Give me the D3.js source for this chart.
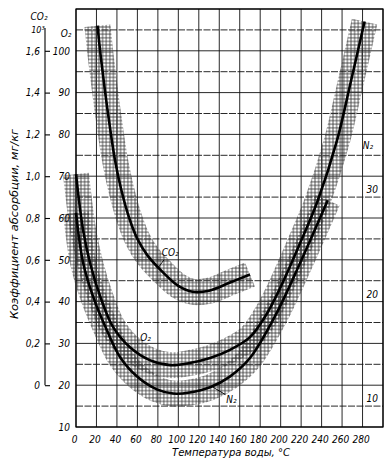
<!DOCTYPE html>
<html lang="ru">
	<head>
		<meta charset="UTF-8" />
		<title>Коэффициент абсорбции</title>
		<script src="https://d3js.org/d3.v7.min.js"></script>
		<style>
			body { margin: 0; background: #fff; }
			text { font-family: 'DejaVu Sans Condensed', 'Liberation Sans Narrow', sans-serif; font-style: italic; fill: #000; }
		</style>
	</head>
	<body>
		<svg width="390" height="464"></svg>

		<script>
			// температура, °C и значения по каждой шкале
			const tempCO2 = [21, 24, 28, 33, 38, 44, 52, 60, 70, 85, 100, 114, 130, 150, 170];
			const co2 = [1.72, 1.58, 1.42, 1.24, 1.08, 0.94, 0.8, 0.7, 0.62, 0.54, 0.475, 0.447, 0.452, 0.49, 0.53];

			const tempO2 = [0, 7, 14, 24, 36, 53, 72, 92, 111, 131, 150, 170, 185, 199, 219, 236, 255, 268, 282];
			const o2 = [70.5, 57, 49, 41, 34, 29, 26, 24.8, 25.3, 26.5, 28.4, 31.5, 36.5, 43, 54, 64, 78.5, 92, 107];

			const tempN2 = [0, 7, 17, 30, 43, 60, 79, 95, 111, 131, 150, 170, 195, 219, 246];
			const n2 = [28.5, 23.7, 20.4, 17.3, 14.7, 12.8, 11.6, 11.2, 11.3, 11.8, 12.8, 14.6, 18.7, 23.7, 29.7];

			const xTicks = [0, 20, 40, 60, 80, 100, 120, 140, 160, 180, 200, 220, 240, 260, 280];
			const o2Ticks = [100, 90, 80, 70, 60, 50, 40, 30, 20, 10];
			const co2Ticks = [1.6, 1.4, 1.2, 1.0, 0.8, 0.6, 0.4, 0.2, 0];
			const n2Ticks = [10, 20, 30];

			const svg = d3.select('svg');
			const pLeft = 76, pRight = 383, pTop = 9, pBottom = 427;

			const x = d3.scaleLinear().domain([0, 300]).range([pLeft, pRight]);
			const yO2 = d3.scaleLinear().domain([10, 110]).range([pBottom, pTop]);
			const yCO2 = d3.scaleLinear().domain([-0.2, 1.8]).range([pBottom, pTop]);
			const yN2 = d3.scaleLinear().domain([8, 48]).range([pBottom, pTop]);

			svg.append('rect').attr('width', 390).attr('height', 464).attr('fill', '#fff');

			// штриховка
			const defs = svg.append('defs');
			defs
				.append('pattern')
				.attr('id', 'hatch')
				.attr('width', 3.6)
				.attr('height', 3.6)
				.attr('patternUnits', 'userSpaceOnUse')
				.append('path')
				.attr('d', 'M0,1.8H3.6M1.8,0V3.6')
				.attr('stroke', '#333')
				.attr('stroke-width', 0.8);

			// сетка
			const grid = svg.append('g');
			grid
				.selectAll('.v')
				.data(d3.range(0, 301, 20))
				.enter()
				.append('line')
				.attr('x1', d => x(d))
				.attr('x2', d => x(d))
				.attr('y1', pTop)
				.attr('y2', pBottom)
				.attr('stroke', '#111')
				.attr('stroke-width', 0.9);
			grid
				.selectAll('.h')
				.data(d3.range(10, 111, 5))
				.enter()
				.append('line')
				.attr('x1', pLeft)
				.attr('x2', pRight)
				.attr('y1', d => yO2(d))
				.attr('y2', d => yO2(d))
				.attr('stroke', '#111')
				.attr('stroke-width', 0.9)
				.attr('stroke-dasharray', d => (d % 10 === 0 ? null : '7,1.5'));

			svg
				.append('rect')
				.attr('x', pLeft)
				.attr('y', pTop)
				.attr('width', pRight - pLeft)
				.attr('height', pBottom - pTop)
				.attr('fill', 'none')
				.attr('stroke', '#000')
				.attr('stroke-width', 1.2);

			const series = [
				{ t: tempCO2, v: co2, y: yCO2 },
				{ t: tempO2, v: o2, y: yO2 },
				{ t: tempN2, v: n2, y: yN2 }
			];

			const lineFor = s =>
				d3
					.line()
					.x((d, i) => x(s.t[i]))
					.y(d => s.y(d))
					.curve(d3.curveCatmullRom)(s.v);

			// полосы разброса
			svg
				.selectAll('.band')
				.data(series)
				.enter()
				.append('path')
				.attr('d', lineFor)
				.attr('fill', 'none')
				.attr('stroke', 'url(#hatch)')
				.attr('stroke-width', 26);

			svg
				.selectAll('.curve')
				.data(series)
				.enter()
				.append('path')
				.attr('d', lineFor)
				.attr('fill', 'none')
				.attr('stroke', '#000')
				.attr('stroke-width', 2.6);

			// ось X
			const xAxis = svg
				.append('g')
				.attr('transform', `translate(-2,${pBottom})`)
				.call(d3.axisBottom(x).tickValues(xTicks).tickSize(0).tickPadding(9));
			xAxis.select('.domain').remove();
			xAxis.selectAll('text').style('font-size', '10px').attr('font-family', null);

			// шкала O2
			const o2Axis = svg
				.append('g')
				.attr('transform', `translate(${pLeft - 3},0)`)
				.call(d3.axisLeft(yO2).tickValues(o2Ticks).tickSize(0).tickPadding(3));
			o2Axis.select('.domain').remove();
			o2Axis.selectAll('text').style('font-size', '10px');

			// шкала CO2
			const co2X = 45;
			svg
				.append('line')
				.attr('x1', co2X)
				.attr('x2', co2X)
				.attr('y1', 28)
				.attr('y2', yCO2(0))
				.attr('stroke', '#000')
				.attr('stroke-width', 1.1);
			const co2Axis = svg
				.append('g')
				.attr('transform', `translate(${co2X},0)`)
				.call(
					d3
						.axisLeft(yCO2)
						.tickValues(co2Ticks)
						.tickSize(-5)
						.tickPadding(5)
						.tickFormat(d => (d === 0 ? '0' : d3.format('.1f')(d).replace('.', ',')))
				);
			co2Axis.select('.domain').remove();
			co2Axis.selectAll('line').attr('stroke', '#000').attr('stroke-width', 1.1);
			co2Axis.selectAll('text').style('font-size', '10px');

			// шкала N2
			svg
				.selectAll('.n2lab')
				.data(n2Ticks)
				.enter()
				.append('text')
				.attr('x', 378)
				.attr('y', d => yN2(d) - 4)
				.attr('text-anchor', 'end')
				.style('font-size', '10px')
				.text(d => d);

			// заголовки шкал
			svg.append('text').attr('x', 39).attr('y', 20).attr('text-anchor', 'middle').style('font-size', '10px').text('CO₂');
			svg.append('text').attr('x', 38).attr('y', 33).attr('text-anchor', 'middle').style('font-size', '9px').text('10³');
			svg.append('text').attr('x', 66).attr('y', 37).attr('text-anchor', 'middle').style('font-size', '10px').text('O₂');
			svg.append('text').attr('x', 368).attr('y', 149).attr('text-anchor', 'middle').style('font-size', '10px').text('N₂');

			// подписи кривых
			svg.append('text').attr('x', x(92)).attr('y', yCO2(0.62)).attr('text-anchor', 'middle').style('font-size', '10px').text('CO₂');
			svg
				.append('line')
				.attr('x1', x(86))
				.attr('y1', yCO2(0.6))
				.attr('x2', x(80))
				.attr('y2', yCO2(0.56))
				.attr('stroke', '#000')
				.attr('stroke-width', 0.9);
			svg.append('text').attr('x', x(68)).attr('y', yO2(30.5)).attr('text-anchor', 'middle').style('font-size', '10px').text('O₂');
			svg.append('text').attr('x', x(152)).attr('y', yN2(10.3)).attr('text-anchor', 'middle').style('font-size', '10px').text('N₂');
			svg
				.append('line')
				.attr('x1', x(134))
				.attr('y1', yN2(11.8))
				.attr('x2', x(146))
				.attr('y2', yN2(11.1))
				.attr('stroke', '#000')
				.attr('stroke-width', 0.9);

			// названия осей
			svg
				.append('text')
				.attr('x', 231)
				.attr('y', 456)
				.attr('text-anchor', 'middle')
				.attr('textLength', 118)
				.attr('lengthAdjust', 'spacingAndGlyphs')
				.style('font-size', '11px')
				.text('Температура воды, °С');
			svg
				.append('text')
				.attr('transform', 'translate(18,224) rotate(-90)')
				.attr('text-anchor', 'middle')
				.attr('textLength', 190)
				.attr('lengthAdjust', 'spacingAndGlyphs')
				.style('font-size', '11px')
				.text('Коэффициент абсорбции, мг/кг');
		</script>
	</body>
</html>
